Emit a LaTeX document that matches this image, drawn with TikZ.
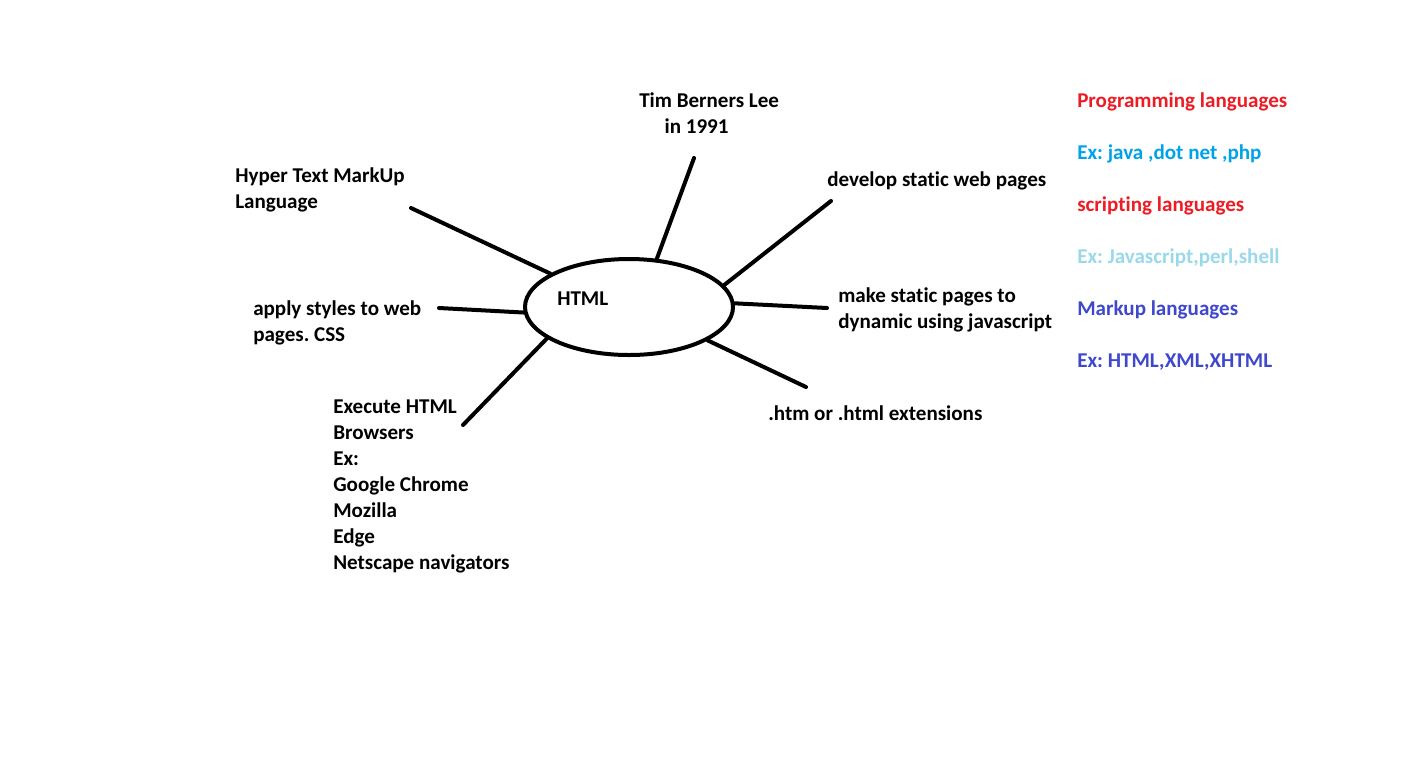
\documentclass[tikz,border=0pt]{standalone}
\usepackage{fontspec}
\setmainfont[Ligatures={NoCommon}]{Carlito}
\usetikzlibrary{shapes.geometric}
\definecolor{pred}{HTML}{ED1C24}
\definecolor{pblue}{HTML}{00A2E8}
\definecolor{plblue}{HTML}{99D9EA}
\definecolor{pindigo}{HTML}{3F48CC}
\tikzset{
  lbl/.style={anchor=base west, inner sep=0pt, align=left,
    font=\fontsize{15.8}{19.5}\selectfont\bfseries\frenchspacing},
  spoke/.style={line width=3pt, line cap=round},
}
\begin{document}
\begin{tikzpicture}[x=0.75pt, y=-0.75pt]
\useasboundingbox (0,0) rectangle (1412,765);
\node[draw, line width=3pt, ellipse, minimum width=156pt, minimum height=72pt, inner sep=0pt] (e) at (629,307) {};
\node[lbl] (html) at (557,305) {HTML};
\node[lbl] (tim) at (639,133) {Tim Berners Lee\\\hspace*{19pt}in 1991};
\node[lbl] (hyper) at (235,208) {Hyper Text MarkUp\\Language};
\node[lbl] (dev) at (827,186) {develop static web pages};
\node[lbl] (apply) at (253,341) {apply styles to web\\pages. CSS};
\node[lbl] (make) at (838,328) {make static pages to\\dynamic using javascript};
\node[lbl] (htm) at (768,420) {.htm or .html extensions};
\node[lbl] (exec) at (333,569) {Execute HTML\\Browsers\\Ex:\\Google Chrome\\Mozilla\\Edge\\Netscape navigators};
\node[lbl, text=pred] (r1) at (1077,107) {Programming languages};
\node[lbl, text=pblue] (r2) at (1077,159) {Ex: java ,dot net ,php};
\node[lbl, text=pred] (r3) at (1077,211) {scripting languages};
\node[lbl, text=plblue] (r4) at (1077,263) {Ex: Javascript,perl,shell};
\node[lbl, text=pindigo] (r5) at (1077,315) {Markup languages};
\node[lbl, text=pindigo] (r6) at (1077,367) {Ex: HTML,XML,XHTML};
\coordinate (c1) at (411,208);
\coordinate (c2) at (694,158);
\coordinate (c3) at (831,201);
\coordinate (c4) at (827,308);
\coordinate (c5) at (806,387);
\coordinate (c6) at (463,425);
\coordinate (c7) at (439,308);
\draw[spoke] (c1) -- (e.157);
\draw[spoke] (c2) -- (e.60);
\draw[spoke] (c3) -- (e.13);
\draw[spoke] (c4) -- (e.2);
\draw[spoke] (c5) -- (e.-23);
\draw[spoke] (c6) -- (e.201);
\draw[spoke] (c7) -- (e.183);
\end{tikzpicture}
\end{document}
